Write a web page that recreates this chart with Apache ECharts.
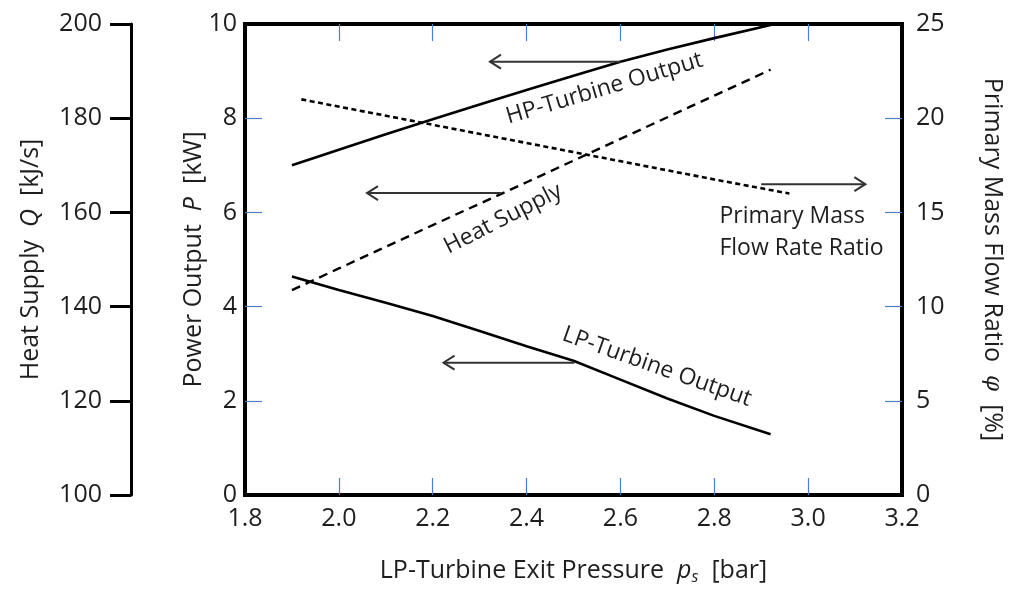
<!DOCTYPE html>
<html>
<head>
<meta charset="utf-8">
<script src="https://cdn.jsdelivr.net/npm/echarts@6/dist/echarts.min.js"></script>
<style>
html,body{margin:0;padding:0;background:#fff;}
#c{width:1013px;height:590px;}
</style>
</head>
<body>
<div id="c"></div>
<script>
// ---- data ----
var hpPressure = [1.9, 2.0, 2.1, 2.2, 2.3, 2.4, 2.5, 2.6, 2.7, 2.8, 2.92];
var hpPower    = [7.0, 7.33, 7.66, 7.98, 8.29, 8.6, 8.9, 9.2, 9.46, 9.7, 9.98];
var lpPressure = [1.9, 2.0, 2.1, 2.2, 2.3, 2.4, 2.5, 2.6, 2.7, 2.8, 2.92];
var lpPower    = [4.64, 4.35, 4.08, 3.8, 3.48, 3.16, 2.85, 2.45, 2.05, 1.68, 1.29];
var heatPressure = [1.9, 2.0, 2.2, 2.4, 2.6, 2.8, 2.92];
var heatSupply   = [143.5, 148.1, 157.3, 166.4, 175.6, 184.8, 190.3];
var flowPressure = [1.92, 2.2, 2.5, 2.8, 2.96];
var flowRatio    = [21.0, 19.65, 18.2, 16.75, 16.0];
var xTicks = [1.8, 3.2, 0.2];        // min, max, interval
var xInnerTicks = [2.0, 2.2, 2.4, 2.6, 2.8, 3.0];
var powerTicks = [0, 10, 2];
var powerInnerTicks = [2, 4, 6, 8];
var heatTicks = [100, 200, 20];
var ratioTicks = [0, 25, 5];
var ratioInnerTicks = [5, 10, 15, 20];
// annotations in data coordinates (pressure, power)
var arrows = [
  {from: [2.6, 9.2], to: [2.322, 9.2]},
  {from: [2.346, 6.41], to: [2.06, 6.41]},
  {from: [2.9, 6.6], to: [3.122, 6.6]},
  {from: [2.502, 2.81], to: [2.223, 2.81]}
];
var labels = [
  {text: 'HP-Turbine Output', at: [2.566, 8.63], rot: 16.5, align: 'center'},
  {text: 'Heat Supply', at: [2.35, 5.86], rot: 27, align: 'center'},
  {text: 'LP-Turbine Output', at: [2.678, 2.72], rot: -19.5, align: 'center'},
  {text: 'Primary Mass', at: [2.811, 5.91], rot: 0, align: 'left'},
  {text: 'Flow Rate Ratio', at: [2.811, 5.23], rot: 0, align: 'left'}
];

function pairs(xs, ys){ return xs.map(function(x,i){return [x, ys[i]];}); }

var FONT = 'Open Sans';
var FS = 25;      // tick labels & titles
var FA = 23;      // annotations
var TXT = '#1e1e1e';
var TICKBLUE = '#4f7fc0';

var chart = echarts.init(document.getElementById('c'), null, {renderer:'canvas'});

function innerTick(vals){
  return {show:true, inside:true, length:17, customValues:vals.slice(), lineStyle:{color:TICKBLUE, width:1.2}};
}
function titleStyle(extraRich){
  var rich = {i:{fontFamily:FONT, fontStyle:'italic', fontSize:FS, color:TXT}};
  if (extraRich) for (var k in extraRich) rich[k] = extraRich[k];
  return {fontFamily:FONT, fontSize:FS, color:TXT, rich:rich};
}

var option = {
  backgroundColor:'#fff',
  animation:false,
  grid:{left:245, right:106, top:24, bottom:92, show:true, borderColor:'#000', borderWidth:4, backgroundColor:'transparent'},
  xAxis:[
    {type:'value', min:xTicks[0], max:xTicks[1], interval:xTicks[2], position:'bottom',
     axisLine:{show:false, onZero:false}, splitLine:{show:false}, axisTick:innerTick(xInnerTicks),
     name:'LP-Turbine Exit Pressure  {i|p}{sub|s}  [bar]',
     nameLocation:'middle', nameGap:62, nameMoveOverlap:false,
     nameTextStyle:titleStyle({sub:{fontFamily:FONT, fontStyle:'italic', fontSize:16, color:TXT, verticalAlign:'bottom', padding:[12,0,0,0]}}),
     axisLabel:{fontFamily:FONT, fontSize:FS, color:TXT, margin:11, formatter:function(v){return v.toFixed(1);}}
    },
    {type:'value', min:xTicks[0], max:xTicks[1], interval:xTicks[2], position:'top',
     axisLine:{show:false, onZero:false}, splitLine:{show:false}, axisTick:innerTick(xInnerTicks),
     axisLabel:{show:false}
    }
  ],
  yAxis:[
    {type:'value', min:powerTicks[0], max:powerTicks[1], interval:powerTicks[2], position:'left',
     axisLine:{show:false, onZero:false}, splitLine:{show:false}, axisTick:innerTick(powerInnerTicks),
     axisLabel:{fontFamily:FONT, fontSize:FS, color:TXT, margin:8},
     name:'Power Output  {i|P}  [kW]', nameLocation:'middle', nameGap:39, nameRotate:90, nameMoveOverlap:false,
     nameTextStyle:titleStyle()
    },
    {type:'value', min:heatTicks[0], max:heatTicks[1], interval:heatTicks[2], position:'left', offset:114,
     axisLine:{show:true, onZero:false, lineStyle:{color:'#000', width:3}}, splitLine:{show:false},
     axisTick:{show:true, inside:false, length:21, lineStyle:{color:'#000', width:3}},
     axisLabel:{fontFamily:FONT, fontSize:FS, color:TXT, margin:29},
     name:'Heat Supply  {i|Q}  [kJ/s]', nameLocation:'middle', nameGap:88, nameRotate:90, nameMoveOverlap:false,
     nameTextStyle:titleStyle()
    },
    {type:'value', min:ratioTicks[0], max:ratioTicks[1], interval:ratioTicks[2], position:'right',
     axisLine:{show:false, onZero:false}, splitLine:{show:false}, axisTick:innerTick(ratioInnerTicks),
     axisLabel:{fontFamily:FONT, fontSize:FS, color:TXT, margin:14},
     name:'Primary Mass Flow Ratio  {g|φ}  [%]', nameLocation:'middle', nameGap:78, nameRotate:-90, nameMoveOverlap:false,
     nameTextStyle:titleStyle({g:{fontFamily:'DejaVu Serif', fontStyle:'italic', fontSize:23, color:TXT}})
    }
  ],
  series:[
    {name:'HP-Turbine Output', type:'line', xAxisIndex:0, yAxisIndex:0, data:pairs(hpPressure, hpPower),
     showSymbol:false, lineStyle:{color:'#000', width:2.6}},
    {name:'LP-Turbine Output', type:'line', xAxisIndex:0, yAxisIndex:0, data:pairs(lpPressure, lpPower),
     showSymbol:false, lineStyle:{color:'#000', width:2.6}},
    {name:'Heat Supply', type:'line', xAxisIndex:0, yAxisIndex:1, data:pairs(heatPressure, heatSupply),
     showSymbol:false, lineStyle:{color:'#000', width:2.4, type:[9,6]}},
    {name:'Primary Mass Flow Rate Ratio', type:'line', xAxisIndex:0, yAxisIndex:2, data:pairs(flowPressure, flowRatio),
     showSymbol:false, lineStyle:{color:'#000', width:2.6, type:[5,3.5]}}
  ]
};
chart.setOption(option);

// annotations placed through the chart's own scales
var g = [];
function px(p){ return chart.convertToPixel({xAxisIndex:0, yAxisIndex:0}, p); }
arrows.forEach(function(a){
  var f = px(a.from), t = px(a.to);
  var dir = t[0] < f[0] ? 1 : -1;
  g.push({type:'line', shape:{x1:f[0], y1:f[1], x2:t[0], y2:t[1]}, style:{stroke:'#333', lineWidth:2}, z:10});
  g.push({type:'polyline', shape:{points:[[t[0]+dir*11, t[1]-7],[t[0], t[1]],[t[0]+dir*11, t[1]+7]]}, style:{stroke:'#333', lineWidth:2, fill:null}, z:10});
});
labels.forEach(function(l){
  var p = px(l.at);
  g.push({type:'text', x:p[0], y:p[1], rotation:l.rot*Math.PI/180,
    style:{text:l.text, fontFamily:FONT, fontSize:FA, fill:TXT, align:l.align, verticalAlign:'middle'}, z:10});
});
chart.setOption({graphic:g});
</script>
</body>
</html>
